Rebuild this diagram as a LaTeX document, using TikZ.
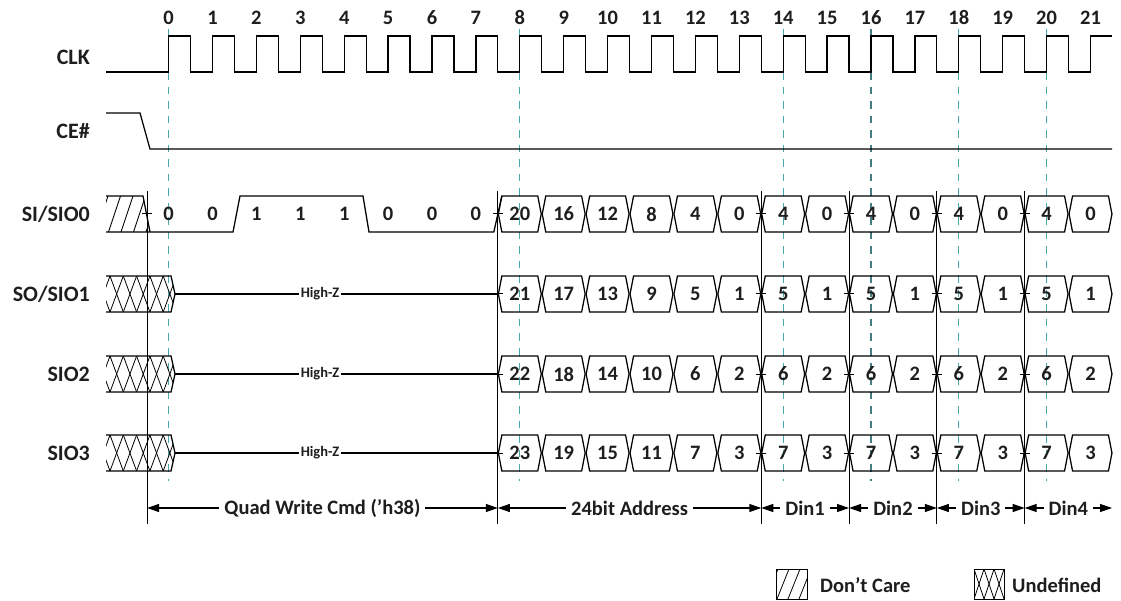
\documentclass[tikz,border=0pt]{standalone}
\usepackage{fontspec}
\setmainfont{Carlito}
\usetikzlibrary{arrows.meta}
\definecolor{tealA}{RGB}{72,168,170}
\definecolor{tealB}{RGB}{70,125,128}
\definecolor{txt}{RGB}{30,30,30}
\begin{document}
\begin{tikzpicture}[x=1pt,y=-1pt,line join=miter,
  sig/.style={draw=black,line width=1.25pt},
  lbl/.style={font=\fontsize{20.5}{24}\selectfont\bfseries,text=txt,inner sep=0pt},
  rowlbl/.style={font=\fontsize{22}{25}\selectfont\bfseries,text=txt,inner sep=0pt,anchor=east},
  hz/.style={font=\fontsize{14.5}{16}\selectfont\bfseries,text=txt,fill=white,inner sep=2pt},
  guide/.style={draw=tealA,line width=1.2pt,dash pattern=on 7.5pt off 7pt},
  guidedark/.style={draw=tealB,line width=1.1pt,dash pattern=on 7.5pt off 7pt},
  vline/.style={draw=black,line width=1pt},
  hatch/.style={draw=black,line width=0.8pt},
  dim/.style={draw=black,line width=1.1pt,{Triangle[length=12pt,width=8pt]}-{Triangle[length=12pt,width=8pt]}},
  dimlbl/.style={lbl,fill=white,inner xsep=5pt,inner ysep=1pt}]
\useasboundingbox (0,0) rectangle (1121,601);
\def\tz{168.6}
\def\per{43.9}
% guide lines
\foreach \n in {0,8,14,18,20}
  \draw[guide] ({\tz+\n*\per},29) -- ({\tz+\n*\per},481);
\draw[guidedark] ({\tz+16*\per},29) -- ({\tz+16*\per},481);
% cycle numbers
\foreach \n in {0,...,21}
  \node[lbl] (cyc\n) at ({\tz+\n*\per},18) {\n};
% row labels
\node[rowlbl] (lclk) at (90,57) {CLK};
\node[rowlbl] (lce) at (90,131) {CE\#};
\node[rowlbl] (lsi) at (90,214) {SI/SIO0};
\node[rowlbl] (lso) at (90,294) {SO/SIO1};
\node[rowlbl] (ls2) at (90,374) {SIO2};
\node[rowlbl] (ls3) at (90,453) {SIO3};
% CLK
\draw[sig] (106,72) -- (\tz,72)
  foreach \n in {0,...,20} { -- ({\tz+\n*\per},36) -- ({\tz+\n*\per+\per/2},36)
     -- ({\tz+\n*\per+\per/2},72) -- ({\tz+(\n+1)*\per},72) }
  -- ({\tz+21*\per},36) -- (1112,36);
% CE#
\draw[sig] (106,113) -- (140,113) -- (150,149) -- (1112,149);
% vertical markers
\foreach \x in {147.05,497.85,761.25,849.05,936.85,1024.65}
  \draw[vline] (\x,191) -- (\x,524);
% SI/SIO0 don't care
\begin{scope}
  \clip (106,196) -- (143,196) -- (150,232) -- (106,232) -- cycle;
  \foreach \i in {-2,...,4}
    \draw[hatch] (96+12.5*\i,232) -- (108+12.5*\i,196);
\end{scope}
\draw[sig] (106,196) -- (143,196) -- (150,232);
\draw[sig] (106,232) -- (233,232) -- (240,196) -- (363,196) -- (369,232) -- (493.85,232) -- (501.85,196);
\foreach \l [count=\k from 0] in {0,0,1,1,1,0,0,0}
  \node[lbl] (si\k) at ({\tz+\k*\per},214) {\l};
% undefined + High-Z rows
\foreach \ym [count=\r] in {294,374,453} {
  \begin{scope}
    \clip (106,\ym-18) -- (171,\ym-18) -- (175,\ym) -- (171,\ym+18) -- (106,\ym+18) -- cycle;
    \foreach \i in {-1,...,5} {
      \draw[hatch] (110+13.3*\i,\ym-18) -- (123.3+13.3*\i,\ym+18);
      \draw[hatch] (123.3+13.3*\i,\ym-18) -- (110+13.3*\i,\ym+18);
    }
  \end{scope}
  \draw[sig] (106,\ym-18) -- (171,\ym-18) -- (175,\ym) -- (171,\ym+18) -- (106,\ym+18);
  \draw[sig] (175,\ym) -- (497.85,\ym);
  \node[hz] (hz\r) at (320,\ym) {High-Z};
}
% bus hexagons
\foreach \row/\ym/\labs in {0/214/{20,16,12,8,4,0,4,0,4,0,4,0,4,0},
                            1/294/{21,17,13,9,5,1,5,1,5,1,5,1,5,1},
                            2/374/{22,18,14,10,6,2,6,2,6,2,6,2,6,2},
                            3/453/{23,19,15,11,7,3,7,3,7,3,7,3,7,3}} {
  \foreach \l [count=\k from 0] in \labs {
    \pgfmathsetmacro\xa{497.85+\k*43.9}
    \pgfmathsetmacro\xe{\xa+43.9}
    \draw[sig] (\xa+0.5,\ym) -- (\xa+4,\ym-18) -- (\xe-4,\ym-18) -- (\xe-0.5,\ym)
       -- (\xe-4,\ym+18) -- (\xa+4,\ym+18) -- cycle;
    \node[lbl] (b\row-\k) at ({(\xa+\xe)/2},\ym) {\l};
  }
  \foreach \x in {497.85,761.25,849.05,936.85,1024.65}
    \draw[vline] (\x-5,\ym) -- (\x+5,\ym);
}
\draw[vline] (142.05,214) -- (152.05,214);
% dimension arrows
\coordinate (d0) at (147.05,508);
\coordinate (d1) at (497.85,508);
\coordinate (d2) at (761.25,508);
\coordinate (d3) at (849.05,508);
\coordinate (d4) at (936.85,508);
\coordinate (d5) at (1024.65,508);
\coordinate (d6) at (1112,508);
\draw[dim] (d0) -- (d1) node[midway,dimlbl] (t1) {Quad Write Cmd (’h38)};
\draw[dim] (d1) -- (d2) node[midway,dimlbl] (t2) {24bit Address};
\draw[dim] (d2) -- (d3) node[midway,dimlbl] (t3) {Din1};
\draw[dim] (d3) -- (d4) node[midway,dimlbl] (t4) {Din2};
\draw[dim] (d4) -- (d5) node[midway,dimlbl] (t5) {Din3};
\draw[dim] (d5) -- (d6) node[midway,dimlbl] (t6) {Din4};
% legend
\begin{scope}
  \clip (776,569) rectangle (807,599);
  \foreach \i in {0,...,4}
    \draw[hatch] (766+11*\i,599) -- (778+11*\i,569);
\end{scope}
\draw[vline] (776,569) rectangle (807,599);
\node[lbl,anchor=west] (ldc) at (820,585) {Don’t Care};
\begin{scope}
  \clip (974,569) rectangle (1004,599);
  \foreach \i in {0,1,2} {
    \draw[hatch] (974+10*\i,569) -- (984+10*\i,599);
    \draw[hatch] (984+10*\i,569) -- (974+10*\i,599);
  }
\end{scope}
\draw[vline] (974,569) rectangle (1004,599);
\node[lbl,anchor=west] (lud) at (1012,585) {Undefined};
\end{tikzpicture}
\end{document}
